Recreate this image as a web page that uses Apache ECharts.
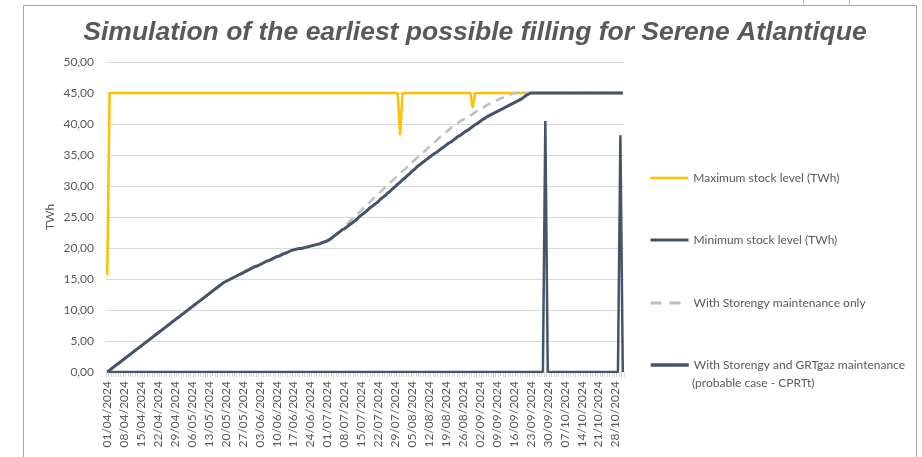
<!DOCTYPE html>
<html>
<head>
<meta charset="utf-8">
<script src="https://cdn.jsdelivr.net/npm/echarts@6/dist/echarts.min.js"></script>
<style>
  html, body { margin: 0; padding: 0; background: #fff; }
  #chart { width: 922px; height: 457px; }
</style>
</head>
<body>
<div id="chart"></div>
<script>
  // daily categories 01/04/2024 .. 31/10/2024
  const categories = [];
  for (let d = new Date(Date.UTC(2024, 3, 1)); d <= new Date(Date.UTC(2024, 9, 31)); d.setUTCDate(d.getUTCDate() + 1)) {
    categories.push(String(d.getUTCDate()).padStart(2, '0') + '/' + String(d.getUTCMonth() + 1).padStart(2, '0') + '/' + d.getUTCFullYear());
  }

  const yTicks = [0, 5, 10, 15, 20, 25, 30, 35, 40, 45, 50];

  const seriesNames = [
    'Maximum stock level (TWh)',
    'Minimum stock level (TWh)',
    'With Storengy maintenance only',
    'With Storengy and GRTgaz maintenance (probable case - CPRTt)'
  ];

  // one row per week
  const maxStock = [
    15.6, 45, 45, 45, 45, 45, 45,
    45, 45, 45, 45, 45, 45, 45,
    45, 45, 45, 45, 45, 45, 45,
    45, 45, 45, 45, 45, 45, 45,
    45, 45, 45, 45, 45, 45, 45,
    45, 45, 45, 45, 45, 45, 45,
    45, 45, 45, 45, 45, 45, 45,
    45, 45, 45, 45, 45, 45, 45,
    45, 45, 45, 45, 45, 45, 45,
    45, 45, 45, 45, 45, 45, 45,
    45, 45, 45, 45, 45, 45, 45,
    45, 45, 45, 45, 45, 45, 45,
    45, 45, 45, 45, 45, 45, 45,
    45, 45, 45, 45, 45, 45, 45,
    45, 45, 45, 45, 45, 45, 45,
    45, 45, 45, 45, 45, 45, 45,
    45, 45, 45, 45, 45, 45, 45,
    45, 45, 38.2, 45, 45, 45, 45,
    45, 45, 45, 45, 45, 45, 45,
    45, 45, 45, 45, 45, 45, 45,
    45, 45, 45, 45, 45, 45, 45,
    45, 45, 45, 45, 42.6, 45, 45,
    45, 45, 45, 45, 45, 45, 45,
    45, 45, 45, 45, 45, 45, 45,
    45, 45, 45, 45, 45, 45, 45,
    45, 45, 45, 45, 45, 45, 45,
    45, 45, 45, 45, 45, 45, 45,
    45, 45, 45, 45, 45, 45, 45,
    45, 45, 45, 45, 45, 45, 45,
    45, 45, 45, 45, 45, 45, 45,
    45, 45, 45, 45
  ];

  const minStock = [
    0, 0, 0, 0, 0, 0, 0,
    0, 0, 0, 0, 0, 0, 0,
    0, 0, 0, 0, 0, 0, 0,
    0, 0, 0, 0, 0, 0, 0,
    0, 0, 0, 0, 0, 0, 0,
    0, 0, 0, 0, 0, 0, 0,
    0, 0, 0, 0, 0, 0, 0,
    0, 0, 0, 0, 0, 0, 0,
    0, 0, 0, 0, 0, 0, 0,
    0, 0, 0, 0, 0, 0, 0,
    0, 0, 0, 0, 0, 0, 0,
    0, 0, 0, 0, 0, 0, 0,
    0, 0, 0, 0, 0, 0, 0,
    0, 0, 0, 0, 0, 0, 0,
    0, 0, 0, 0, 0, 0, 0,
    0, 0, 0, 0, 0, 0, 0,
    0, 0, 0, 0, 0, 0, 0,
    0, 0, 0, 0, 0, 0, 0,
    0, 0, 0, 0, 0, 0, 0,
    0, 0, 0, 0, 0, 0, 0,
    0, 0, 0, 0, 0, 0, 0,
    0, 0, 0, 0, 0, 0, 0,
    0, 0, 0, 0, 0, 0, 0,
    0, 0, 0, 0, 0, 0, 0,
    0, 0, 0, 0, 0, 0, 0,
    0, 0, 0, 0, 0, 0, 40.5,
    0, 0, 0, 0, 0, 0, 0,
    0, 0, 0, 0, 0, 0, 0,
    0, 0, 0, 0, 0, 0, 0,
    0, 0, 0, 0, 0, 0, 0,
    0, 0, 38.2, 0
  ];

  const storengyOnly = [
    0, 0.3, 0.6, 0.9, 1.2, 1.5, 1.8,
    2.1, 2.4, 2.7, 3.0, 3.3, 3.6, 3.9,
    4.2, 4.5, 4.8, 5.1, 5.4, 5.7, 6.0,
    6.3, 6.6, 6.9, 7.2, 7.5, 7.8, 8.1,
    8.4, 8.7, 9.0, 9.3, 9.6, 9.9, 10.2,
    10.5, 10.8, 11.1, 11.4, 11.7, 12.0, 12.3,
    12.6, 12.9, 13.2, 13.5, 13.8, 14.1, 14.4,
    14.6, 14.8, 15.0, 15.2, 15.4, 15.6, 15.8,
    16.0, 16.2, 16.4, 16.6, 16.8, 17.0, 17.1,
    17.3, 17.5, 17.7, 17.9, 18.0, 18.2, 18.4,
    18.6, 18.7, 18.9, 19.1, 19.2, 19.4, 19.6,
    19.7, 19.8, 19.9, 19.9, 20.0, 20.1, 20.2,
    20.3, 20.4, 20.5, 20.6, 20.7, 20.9, 21.0,
    21.2, 21.4, 21.7, 22.0, 22.3, 22.6, 23.0,
    23.4, 23.8, 24.2, 24.6, 25.0, 25.3, 25.7,
    26.1, 26.5, 26.8, 27.2, 27.6, 28.0, 28.3,
    28.7, 29.1, 29.5, 29.8, 30.2, 30.6, 30.9,
    31.3, 31.6, 32.0, 32.4, 32.7, 33.1, 33.4,
    33.8, 34.2, 34.5, 34.9, 35.2, 35.6, 35.9,
    36.3, 36.6, 37.0, 37.3, 37.7, 38.0, 38.3,
    38.7, 39.0, 39.4, 39.7, 40.0, 40.2, 40.5,
    40.7, 40.9, 41.2, 41.4, 41.6, 41.9, 42.1,
    42.4, 42.6, 42.8, 43.1, 43.3, 43.5, 43.6,
    43.8, 44.0, 44.2, 44.3, 44.5, 44.7, 44.8,
    45, 45, 45, 45, 45, 45, 45,
    45, 45, 45, 45, 45, 45, 45,
    45, 45, 45, 45, 45, 45, 45,
    45, 45, 45, 45, 45, 45, 45,
    45, 45, 45, 45, 45, 45, 45,
    45, 45, 45, 45, 45, 45, 45,
    45, 45, 45, 45
  ];

  const storengyGrtgaz = [
    0, 0.3, 0.6, 0.9, 1.2, 1.5, 1.8,
    2.1, 2.4, 2.7, 3.0, 3.3, 3.6, 3.9,
    4.2, 4.5, 4.8, 5.1, 5.4, 5.7, 6.0,
    6.3, 6.6, 6.9, 7.2, 7.5, 7.8, 8.1,
    8.4, 8.7, 9.0, 9.3, 9.6, 9.9, 10.2,
    10.5, 10.8, 11.1, 11.4, 11.7, 12.0, 12.3,
    12.6, 12.9, 13.2, 13.5, 13.8, 14.1, 14.4,
    14.6, 14.8, 15.0, 15.2, 15.4, 15.6, 15.8,
    16.0, 16.2, 16.4, 16.6, 16.8, 17.0, 17.1,
    17.3, 17.5, 17.7, 17.9, 18.0, 18.2, 18.4,
    18.6, 18.7, 18.9, 19.1, 19.2, 19.4, 19.6,
    19.7, 19.8, 19.9, 19.9, 20.0, 20.1, 20.2,
    20.3, 20.4, 20.5, 20.6, 20.7, 20.9, 21.0,
    21.2, 21.4, 21.7, 22.0, 22.3, 22.6, 22.9,
    23.1, 23.4, 23.7, 24.0, 24.3, 24.6, 25.0,
    25.3, 25.6, 25.9, 26.3, 26.6, 26.9, 27.2,
    27.5, 27.9, 28.2, 28.5, 28.9, 29.2, 29.6,
    29.9, 30.3, 30.6, 31.0, 31.3, 31.7, 32.0,
    32.4, 32.7, 33.1, 33.4, 33.7, 34.0, 34.3,
    34.6, 34.9, 35.2, 35.4, 35.7, 36.0, 36.3,
    36.6, 36.9, 37.1, 37.4, 37.7, 38.0, 38.2,
    38.5, 38.8, 39.0, 39.3, 39.6, 39.9, 40.1,
    40.4, 40.7, 40.9, 41.2, 41.4, 41.6, 41.8,
    42.0, 42.2, 42.4, 42.6, 42.8, 43.0, 43.2,
    43.4, 43.6, 43.8, 44.0, 44.3, 44.6, 44.8,
    45, 45, 45, 45, 45, 45, 45,
    45, 45, 45, 45, 45, 45, 45,
    45, 45, 45, 45, 45, 45, 45,
    45, 45, 45, 45, 45, 45, 45,
    45, 45, 45, 45, 45, 45, 45,
    45, 45, 45, 45
  ];

  const textColor = '#595959';
  const font = 'Lato';

  function legendFor(name, top, lineStyle, label) {
    return {
      data: [name],
      left: 649,
      top: top,
      padding: 0,
      itemWidth: 38,
      itemHeight: 14,
      selectedMode: false,
      itemStyle: { opacity: 0 },
      lineStyle: lineStyle,
      formatter: label ? function () { return label; } : '{name}',
      textStyle: { color: textColor, fontFamily: font, fontSize: 12 }
    };
  }

  const chart = echarts.init(document.getElementById('chart'));
  const option = {
    animation: false,
    backgroundColor: '#fff',
    title: {
      text: 'Simulation of the earliest possible filling for Serene Atlantique',
      left: 475,
      top: 19,
      padding: 0,
      textAlign: 'center',
      textStyle: {
        fontFamily: 'Liberation Sans',
        fontSize: 26.5,
        fontWeight: 'bold',
        fontStyle: 'italic',
        color: textColor
      }
    },
    legend: [
      legendFor(seriesNames[0], 172, { width: 2.5 }),
      legendFor(seriesNames[1], 234, { width: 3 }),
      legendFor(seriesNames[2], 297, { width: 3, type: [11, 8] }),
      legendFor(seriesNames[3], 359, { width: 3.5 }, 'With Storengy and GRTgaz maintenance')
    ],
    graphic: [
      { type: 'rect', silent: true, shape: { x: 23.5, y: 5.5, width: 893, height: 470 },
        style: { fill: 'none', stroke: '#A6A6A6', lineWidth: 1 } },
      { type: 'line', silent: true, shape: { x1: 803.5, y1: 0, x2: 803.5, y2: 5 },
        style: { stroke: '#8ED3C8', lineWidth: 1 } },
      { type: 'line', silent: true, shape: { x1: 849.5, y1: 0, x2: 849.5, y2: 5 },
        style: { stroke: '#8ED3C8', lineWidth: 1 } },
      { type: 'text', silent: true, x: 692, y: 383,
        style: { text: '(probable case - CPRTt)', fill: textColor, fontFamily: font, fontSize: 12,
                 align: 'left', verticalAlign: 'middle' } }
    ],
    grid: { left: 106, top: 62, width: 518, height: 310, outerBoundsMode: 'none' },
    xAxis: {
      type: 'category',
      data: categories,
      boundaryGap: true,
      axisLine: { show: true, lineStyle: { color: '#D9D9D9', width: 1 } },
      axisTick: { show: true, interval: 0, length: 5, lineStyle: { color: '#D9D9D9' } },
      axisLabel: { interval: 6, rotate: 90, margin: 9, color: textColor, fontFamily: font, fontSize: 12 },
      splitLine: { show: false }
    },
    yAxis: {
      type: 'value',
      min: yTicks[0],
      max: yTicks[yTicks.length - 1],
      interval: 5,
      name: 'TWh',
      nameLocation: 'middle',
      nameGap: 50,
      nameRotate: 90,
      nameMoveOverlap: false,
      nameTextStyle: { color: textColor, fontFamily: font, fontSize: 12 },
      axisLine: { show: false },
      axisTick: { show: false },
      axisLabel: {
        margin: 12, color: textColor, fontFamily: font, fontSize: 12,
        formatter: function (v) { return v.toFixed(2).replace('.', ','); }
      },
      splitLine: { lineStyle: { color: '#D9D9D9', width: 1 } }
    },
    series: [
      { name: seriesNames[0], type: 'line', data: maxStock, symbol: 'none',
        lineStyle: { color: '#FFC000', width: 2.5 }, itemStyle: { color: '#FFC000' } },
      { name: seriesNames[1], type: 'line', data: minStock, symbol: 'none',
        lineStyle: { color: '#44546A', width: 2.5 }, itemStyle: { color: '#44546A' } },
      { name: seriesNames[2], type: 'line', data: storengyOnly, symbol: 'none',
        lineStyle: { color: '#BFBFBF', width: 2.5, type: [9, 6] }, itemStyle: { color: '#BFBFBF' } },
      { name: seriesNames[3], type: 'line', data: storengyGrtgaz, symbol: 'none',
        lineStyle: { color: '#44546A', width: 3 }, itemStyle: { color: '#44546A' } }
    ]
  };
  chart.setOption(option);
  window.addEventListener('resize', function () { chart.resize(); });
</script>
</body>
</html>
